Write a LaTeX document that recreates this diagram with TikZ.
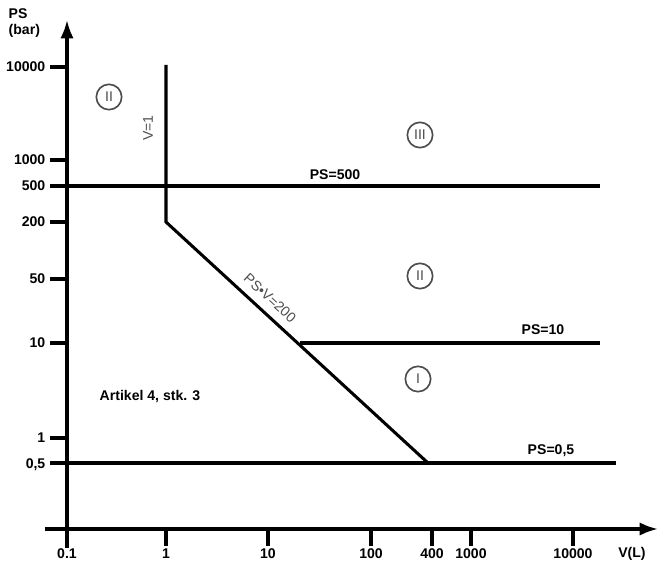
\documentclass[tikz,border=0pt]{standalone}
\usepackage{fontspec}
\setmainfont{Liberation Sans}
\usetikzlibrary{arrows.meta}

\begin{document}
\begin{tikzpicture}[x=0.03cm,y=-0.03cm,line width=2.6pt,
  lbl/.style={font=\bfseries\fontsize{12}{14}\selectfont,inner sep=1pt},
  glbl/.style={text=black!70,font=\fontsize{12}{14}\selectfont,inner sep=1pt},
  zone/.style={circle,draw=black!70,line width=1.4pt,text=black!70,
    minimum size=0.76cm,inner sep=0pt,font=\fontsize{12}{14}\selectfont}]
  \useasboundingbox (0,0) rectangle (660,564);
  % axes
  \draw[-{Latex[length=5.5mm,width=4mm]}] (67,548) -- (67,20);
  \draw[-{Latex[length=5.5mm,width=4mm]}] (45,529) -- (658,529);
  \node[lbl,align=left,anchor=north west] (yname) at (6,6) {PS\\(bar)};
  \node[lbl] (xname) at (632,554) {V(L)};
  \foreach \y/\t [count=\i] in {67/10000,160/1000,222/200,279/50,343/10,438/1}{
    \draw (50,\y) -- (67,\y);
    \node[lbl,anchor=east] (yt\i) at (48,\y) {\t};
  }
  \node[lbl,anchor=east] (y500) at (48,186) {500};
  \node[lbl,anchor=east] (y05) at (48,465) {0,5};
  \foreach \x/\t [count=\i] in {67/0.1,166/1,268/10,371/100,432/400,471/1000,573/10000}{
    \draw (\x,529) -- (\x,546);
    \node[lbl] (xt\i) at (\x,554) {\t};
  }
  % limits
  \coordinate (v1top) at (166,65);
  \coordinate (v1bot) at (166,222);
  \coordinate (knee) at (428,463);
  \coordinate (p10a) at (300,343);
  \coordinate (p10b) at (600,343);
  \draw (v1top) -- (v1bot) -- (knee);
  \draw (50,186) -- (600,186);
  \draw (50,463) -- (616,463);
  \draw (p10a) -- (p10b);
  \node[glbl,rotate=90] (lv1) at (148,128) {V=1};
  \node[glbl,rotate=-42.6] (lpsv) at (270,298) {PS•V=200};
  \node[lbl] (l500) at (335,175) {PS=500};
  \node[lbl] (l10) at (543,330) {PS=10};
  \node[lbl] (l05) at (551,451) {PS=0,5};
  \node[lbl] (art) at (150,396) {Artikel 4, stk. 3};
  % categories
  \node[zone] (c2a) at (109,97) {II};
  \node[zone] (c3) at (420,135) {III};
  \node[zone] (c2b) at (420,276) {II};
  \node[zone] (c1) at (418,379) {I};
\end{tikzpicture}
\end{document}
